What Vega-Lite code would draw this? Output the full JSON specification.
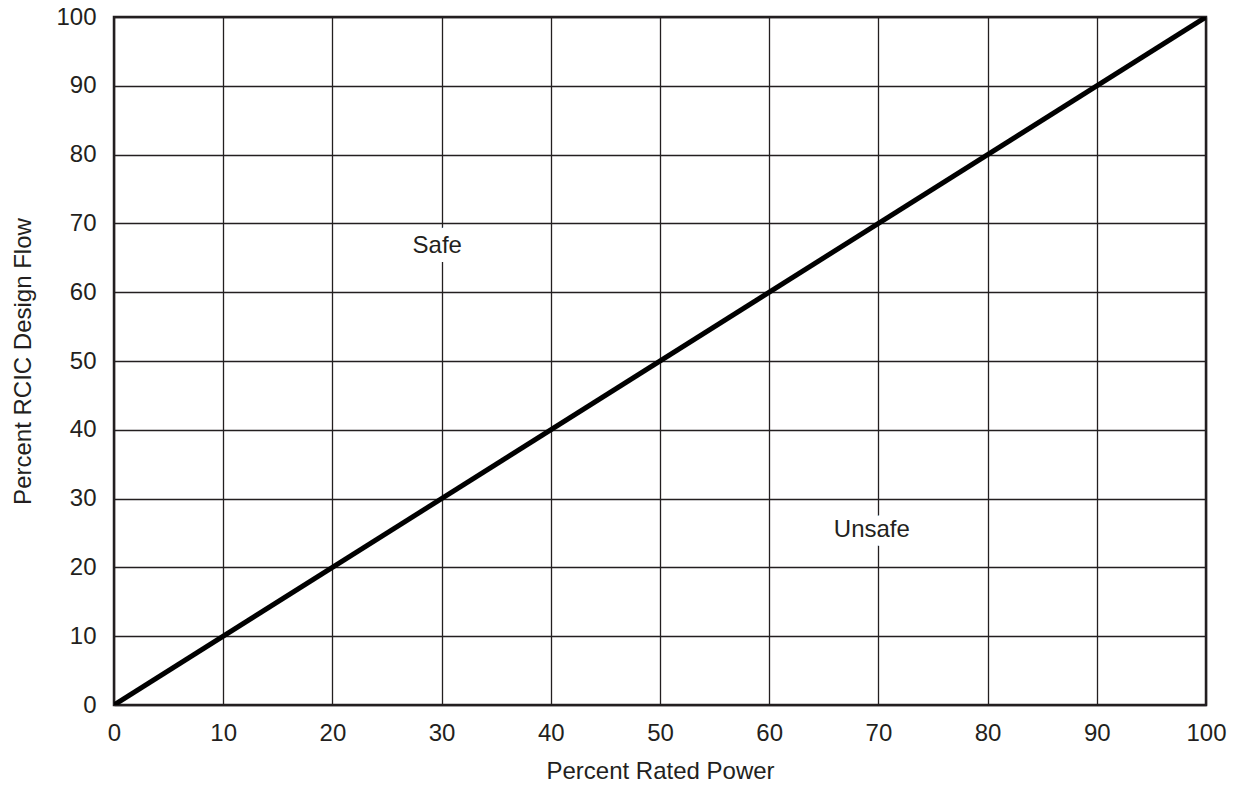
{
  "$schema": "https://vega.github.io/schema/vega-lite/v6.json",
  "autosize": {"type": "none"},
  "padding": {"left": 114, "top": 17, "right": 32, "bottom": 84},
  "width": 1092,
  "height": 688,
  "background": "white",
  "config": {
    "font": "Liberation Sans",
    "view": {"stroke": "#231f20", "strokeWidth": 2.5},
    "axis": {
      "domain": false,
      "ticks": false,
      "grid": true,
      "gridColor": "#231f20",
      "gridWidth": 1.3,
      "gridOpacity": 1,
      "labelFlush": false,
      "labelOverlap": false,
      "labelFont": "Liberation Sans",
      "labelFontSize": 24,
      "labelColor": "#231f20",
      "titleFont": "Liberation Sans",
      "titleFontSize": 24,
      "titleFontWeight": "normal",
      "titleColor": "#231f20"
    }
  },
  "datasets": {
    "line": [{"power": 0, "flow": 0}, {"power": 100, "flow": 100}],
    "labels": [
      {"power": 29.6, "flow": 66.7, "text": "Safe"},
      {"power": 69.4, "flow": 25.4, "text": "Unsafe"}
    ]
  },
  "layer": [
    {
      "data": {"name": "line"},
      "mark": {"type": "line", "color": "#000000", "strokeWidth": 5, "clip": true},
      "encoding": {
        "x": {
          "field": "power", "type": "quantitative",
          "scale": {"domain": [0, 100], "nice": false},
          "axis": {"values": [0,10,20,30,40,50,60,70,80,90,100], "labelPadding": 16, "title": "Percent Rated Power", "titlePadding": 14}
        },
        "y": {
          "field": "flow", "type": "quantitative",
          "scale": {"domain": [0, 100], "nice": false},
          "axis": {"values": [0,10,20,30,40,50,60,70,80,90,100], "labelPadding": 18, "title": "Percent RCIC Design Flow", "titlePadding": 20}
        }
      }
    },
    {
      "data": {"name": "labels"},
      "mark": {"type": "text", "fontSize": 24, "stroke": "white", "strokeWidth": 18, "color": "white", "align": "center", "baseline": "middle"},
      "encoding": {
        "x": {"field": "power", "type": "quantitative"},
        "y": {"field": "flow", "type": "quantitative"},
        "text": {"field": "text"}
      }
    },
    {
      "data": {"name": "labels"},
      "mark": {"type": "text", "fontSize": 24, "color": "#231f20", "align": "center", "baseline": "middle"},
      "encoding": {
        "x": {"field": "power", "type": "quantitative"},
        "y": {"field": "flow", "type": "quantitative"},
        "text": {"field": "text"}
      }
    }
  ]
}
